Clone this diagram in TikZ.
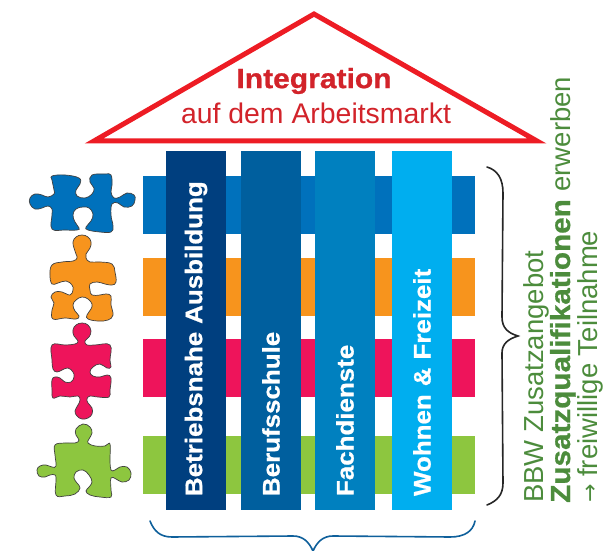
\documentclass[tikz,border=0pt]{standalone}
\usepackage{fontspec}
\setmainfont[BoldFeatures={FakeStretch=1.08,FakeBold=.8}]{Liberation Sans}
\newfontfamily\arrowfont{DejaVu Sans}
\definecolor{roofred}{HTML}{ED1C24}
\definecolor{textred}{HTML}{D2232A}
\definecolor{barblue}{HTML}{0071BC}
\definecolor{barorange}{HTML}{F7941D}
\definecolor{barpink}{HTML}{EE145B}
\definecolor{bargreen}{HTML}{8DC63F}
\definecolor{colone}{HTML}{003F7F}
\definecolor{coltwo}{HTML}{005F9E}
\definecolor{colthree}{HTML}{0080BF}
\definecolor{colfour}{HTML}{00AEEF}
\definecolor{sidegreen}{HTML}{4C8C3C}
\definecolor{braceblue}{HTML}{0F609B}
\tikzset{
	bar/.style={minimum width=332pt, minimum height=58pt, inner sep=0pt},
	column/.style={rotate=90, minimum height=60pt, text width=331pt, inner sep=14pt, align=left, text=white, font=\fontsize{24}{28}\selectfont\bfseries},
	puzzle/.style={draw=black!75, line width=.7pt},
	sidetext/.style={rotate=90, anchor=base west, inner sep=0pt, text=sidegreen, font=\fontsize{27.5}{32}\selectfont},
	brace/.style={line width=1.6pt, line cap=round}
}
\begin{document}
\begin{tikzpicture}[x=1pt, y=-1pt]
\useasboundingbox (0,0) rectangle (614,551);
% roof
\draw[roofred, line width=5pt, miter limit=10] (94,141) -- (314,14) -- (537,141) -- cycle;
\node[text=textred, font=\fontsize{27.8}{32}\selectfont\bfseries] (integration) at (314,81) {Integration};
\node[text=textred, font=\fontsize{28.4}{32}\selectfont] (markt) at (316,113) {auf dem Arbeitsmarkt};
% bars
\node[bar, fill=barblue] (bar1) at (309,205) {};
\node[bar, fill=barorange] (bar2) at (309,286.5) {};
\node[bar, fill=barpink] (bar3) at (309,368) {};
\node[bar, fill=bargreen] (bar4) at (309,465) {};
% columns
\node[column, fill=colone] (ausbildung) at (196,330.5) {Betriebsnahe Ausbildung};
\node[column, fill=coltwo] (schule) at (271,330.5) {Berufsschule};
\node[column, fill=colthree] (dienste) at (345,330.5) {Fachdienste};
\node[column, fill=colfour] (wohnen) at (422,330.5) {Wohnen \& Freizeit};
% puzzle pieces
\draw[puzzle, fill=barblue] plot[smooth cycle, tension=.7] coordinates {(52,176)(65,175)(79,178)(80,184)(76,190)(77,196)(85,198)(92,194)(94,188)(90,182)(92,175)(105,174)(111,175)(112,185)(111,192)(114,198)(120,197)(127,193)(134,195)(135,200)(132,206)(124,207)(118,203)(112,204)(111,215)(113,226)(111,232)(100,232)(88,230)(86,227)(91,221)(93,214)(89,208)(83,207)(76,209)(73,215)(75,222)(79,228)(77,230)(65,230)(52,229)(52,215)(52,209)(48,206)(42,208)(35,209)(30,204)(30,198)(35,194)(42,195)(48,197)(54,194)(54,190)(52,180)};
\draw[puzzle, fill=barorange] plot[smooth cycle, tension=.7] coordinates {(76,254)(74,248)(73,242)(76,237)(82,235)(88,237)(91,242)(90,248)(86,254)(86,258)(90,262)(100,262)(112,264)(115,272)(116,282)(112,285)(105,284)(97,282)(90,284)(90,290)(92,295)(100,295)(106,294)(111,296)(111,305)(113,315)(108,320)(98,321)(88,319)(87,315)(91,309)(92,304)(88,299)(82,297)(76,300)(73,305)(75,311)(79,316)(76,319)(65,318)(53,319)(52,310)(54,303)(51,297)(55,292)(62,292)(70,295)(73,290)(72,285)(66,281)(58,283)(52,284)(50,275)(52,265)(62,262)(73,261)(77,258)};
\draw[puzzle, fill=barpink] plot[smooth cycle, tension=.7] coordinates {(82,323)(88,325)(91,331)(89,337)(85,341)(87,345)(95,345)(110,345)(110,360)(111,367)(107,368)(100,364)(93,367)(90,372)(93,376)(100,377)(107,375)(111,378)(110,390)(109,397)(98,397)(90,396)(87,399)(88,403)(92,408)(92,414)(88,418)(82,419)(77,416)(75,411)(78,405)(80,400)(78,396)(70,397)(60,396)(53,398)(52,390)(52,380)(55,377)(60,378)(65,382)(71,382)(74,377)(73,372)(68,368)(62,370)(57,372)(53,369)(52,360)(52,345)(65,345)(75,344)(78,341)(74,336)(73,330)(76,325)};
\draw[puzzle, fill=bargreen] plot[smooth cycle, tension=.7] coordinates {(83,424)(90,427)(92,433)(89,439)(88,443)(95,446)(105,446)(110,444)(110,460)(111,470)(115,470)(120,467)(127,467)(131,473)(129,480)(122,482)(116,479)(111,478)(111,490)(111,497)(100,497)(90,495)(86,491)(89,487)(92,482)(89,475)(83,470)(76,472)(74,478)(77,483)(80,488)(75,494)(65,496)(56,495)(56,480)(55,475)(50,475)(45,477)(39,476)(37,470)(40,466)(46,465)(52,467)(56,466)(55,455)(55,445)(65,443)(75,443)(79,440)(76,435)(76,429)};
% braces
\draw[brace, black!85] (487,167) .. controls (497,170) and (503,178) .. (503,193) -- (502,317) .. controls (502,328) and (508,333) .. (518,336) .. controls (508,339) and (502,344) .. (502,353) -- (503,483) .. controls (503,495) and (497,501) .. (487,505);
\draw[brace, braceblue] (150,521) .. controls (154,531) and (160,537) .. (172,537) -- (293,536) .. controls (303,536) and (309,542) .. (313,551) .. controls (317,542) and (323,536) .. (333,536) -- (450,537) .. controls (465,537) and (473,531) .. (475,521);
% side text
\node[sidetext] (angebot) at (543,503) {BBW Zusatzangebot};
\node[sidetext] (quali) at (570,503) {\textbf{Zusatzqualifikationen} erwerben};
\node[sidetext] (teilnahme) at (597,503) {{\arrowfont\fontsize{22}{26}\selectfont →} freiwillige Teilnahme};
\end{tikzpicture}
\end{document}
